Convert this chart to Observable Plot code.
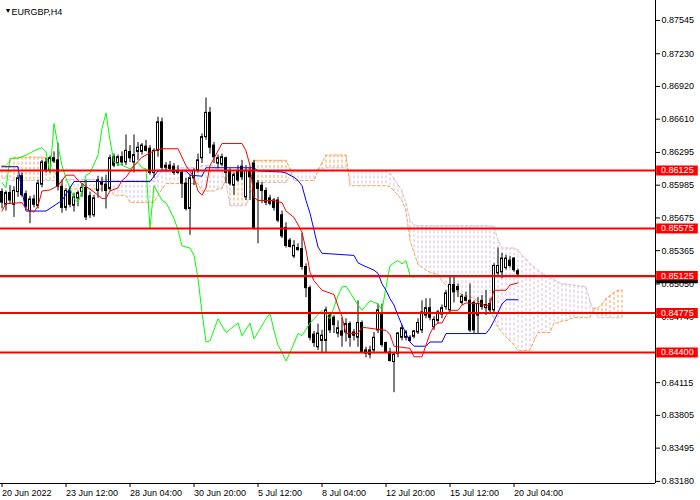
<!DOCTYPE html>
<html>
<head>
<meta charset="utf-8">
<script src="https://cdn.jsdelivr.net/npm/d3@7"></script>
<script src="https://cdn.jsdelivr.net/npm/@observablehq/plot@0.6"></script>
<style>
  html, body { margin: 0; padding: 0; background: #fff; }
  #chart svg { display: block; }
</style>
</head>
<body>
<div id="chart"></div>
<script>
// ---------- DATA ----------
const symbolTitle = "EURGBP,H4";

// H4 candles, bar index 0..129
const open = [
  0.8592,0.8580,0.8591,0.8580,0.8592,0.8607,0.8590,0.8574,0.8585,0.8579,
  0.8599,0.8620,0.8612,0.8624,0.8622,0.8597,0.8577,0.8593,0.8579,0.8586,
  0.8592,0.8596,0.8588,0.8570,0.8593,0.8601,0.8599,0.8595,0.8625,0.8619,
  0.8625,0.8620,0.8630,0.8620,0.8630,0.8630,0.8635,0.8633,0.8610,0.8631,
  0.8658,0.8615,0.8617,0.8616,0.8612,0.8610,0.8600,0.8576,0.8605,0.8612,
  0.8624,0.8644,0.8667,0.8636,0.8619,0.8618,0.8624,0.8612,0.8598,0.8612,
  0.8616,0.8587,0.8612,0.8619,0.8600,0.8598,0.8593,0.8586,0.8584,0.8584,
  0.8570,0.8558,0.8546,0.8531,0.8539,0.8538,0.8521,0.8501,0.8457,0.8445,
  0.8451,0.8451,0.8475,0.8473,0.8458,0.8460,0.8459,0.8467,0.8459,0.8454,
  0.8468,0.8442,0.8442,0.8442,0.8461,0.8477,0.8449,0.8440,0.8431,0.8439,
  0.8454,0.8454,0.8454,0.8455,0.8459,0.8461,0.8475,0.8482,0.8464,0.8470,
  0.8476,0.8483,0.8480,0.8504,0.8502,0.8487,0.8492,0.8489,0.8487,0.8475,
  0.8489,0.8482,0.8486,0.8480,0.8515,0.8516,0.8520,0.8527,0.8529,0.8517
];
const high = [
  0.8595,0.8593,0.8598,0.8597,0.8608,0.8610,0.8593,0.8588,0.8589,0.8603,
  0.8622,0.8624,0.8626,0.8630,0.8638,0.8603,0.8595,0.8597,0.8591,0.8593,
  0.8600,0.8603,0.8592,0.8589,0.8607,0.8606,0.8608,0.8627,0.8628,0.8627,
  0.8630,0.8646,0.8636,0.8646,0.8639,0.8638,0.8641,0.8636,0.8633,0.8663,
  0.8662,0.8620,0.8621,0.8619,0.8617,0.8612,0.8605,0.8608,0.8614,0.8628,
  0.8647,0.8681,0.8672,0.8639,0.8627,0.8628,0.8625,0.8614,0.8610,0.8617,
  0.8622,0.8617,0.8615,0.8622,0.8603,0.8601,0.8596,0.8589,0.8586,0.8587,
  0.8574,0.8563,0.8548,0.8546,0.8543,0.8553,0.8524,0.8503,0.8460,0.8467,
  0.8461,0.8483,0.8478,0.8475,0.8470,0.8473,0.8472,0.8469,0.8462,0.8489,
  0.8470,0.8445,0.8446,0.8459,0.8486,0.8486,0.8450,0.8444,0.8440,0.8459,
  0.8466,0.8461,0.8456,0.8461,0.8472,0.8489,0.8491,0.8491,0.8474,0.8480,
  0.8485,0.8499,0.8511,0.8511,0.8505,0.8495,0.8497,0.8505,0.8489,0.8492,
  0.8494,0.8499,0.8491,0.8524,0.8539,0.8534,0.8532,0.8531,0.8530,0.8519
];
const low = [
  0.8576,0.8574,0.8581,0.8568,0.8587,0.8587,0.8576,0.8562,0.8577,0.8576,
  0.8596,0.8610,0.8610,0.8619,0.8593,0.8572,0.8574,0.8577,0.8573,0.8578,
  0.8587,0.8565,0.8567,0.8568,0.8586,0.8592,0.8576,0.8593,0.8615,0.8616,
  0.8617,0.8617,0.8620,0.8610,0.8622,0.8627,0.8630,0.8608,0.8605,0.8625,
  0.8612,0.8611,0.8612,0.8608,0.8609,0.8586,0.8574,0.8551,0.8598,0.8610,
  0.8619,0.8641,0.8628,0.8619,0.8614,0.8616,0.8600,0.8598,0.8589,0.8601,
  0.8603,0.8584,0.8584,0.8556,0.8543,0.8581,0.8579,0.8579,0.8574,0.8563,
  0.8548,0.8539,0.8539,0.8529,0.8536,0.8518,0.8492,0.8451,0.8445,0.8442,
  0.8440,0.8440,0.8458,0.8458,0.8454,0.8445,0.8450,0.8445,0.8451,0.8445,
  0.8439,0.8435,0.8434,0.8439,0.8458,0.8445,0.8439,0.8431,0.8402,0.8435,
  0.8451,0.8451,0.8450,0.8453,0.8457,0.8458,0.8472,0.8470,0.8461,0.8467,
  0.8472,0.8480,0.8478,0.8487,0.8492,0.8485,0.8488,0.8459,0.8458,0.8458,
  0.8480,0.8475,0.8477,0.8478,0.8511,0.8510,0.8518,0.8520,0.8516,0.8511
];
const close = [
  0.8582,0.8591,0.8584,0.8593,0.8605,0.8589,0.8578,0.8585,0.8580,0.8600,
  0.8620,0.8612,0.8624,0.8621,0.8597,0.8577,0.8593,0.8580,0.8587,0.8591,
  0.8596,0.8568,0.8570,0.8586,0.8603,0.8599,0.8593,0.8624,0.8617,0.8625,
  0.8620,0.8631,0.8624,0.8627,0.8634,0.8636,0.8631,0.8610,0.8631,0.8658,
  0.8615,0.8617,0.8614,0.8610,0.8610,0.8600,0.8576,0.8605,0.8612,0.8622,
  0.8644,0.8667,0.8634,0.8625,0.8624,0.8625,0.8610,0.8600,0.8608,0.8603,
  0.8606,0.8612,0.8606,0.8558,0.8595,0.8593,0.8582,0.8581,0.8577,0.8565,
  0.8550,0.8541,0.8540,0.8541,0.8537,0.8521,0.8501,0.8454,0.8449,0.8458,
  0.8456,0.8480,0.8461,0.8466,0.8463,0.8456,0.8467,0.8454,0.8456,0.8468,
  0.8440,0.8439,0.8438,0.8454,0.8480,0.8447,0.8440,0.8432,0.8438,0.8458,
  0.8463,0.8459,0.8451,0.8460,0.8468,0.8478,0.8482,0.8473,0.8471,0.8478,
  0.8482,0.8496,0.8504,0.8497,0.8499,0.8493,0.8489,0.8461,0.8461,0.8486,
  0.8483,0.8485,0.8480,0.8522,0.8522,0.8529,0.8529,0.8522,0.8518,0.8514
];

// Ichimoku Tenkan-sen (red), vertices: bar index / price
const tenkanBar = [0,1,5,6,8,9,10,12,14,16,18,19,20,23,25,26,27,29,30,31,33,35,38,40,44,46,48,49,50,51,52,55,60,61,62,63,64,68,70,71,73,75,76,77,78,80,83,84,85,86,89,90,96,97,98,102,103,105,106,107,108,109,110,111,112,114,115,116,120,121,122,123,126,127,129];
const tenkanVal = [0.8574,0.8581,0.8582,0.8576,0.8573,0.8579,0.8593,0.8594,0.8598,0.8608,0.8608,0.8603,0.8600,0.8592,0.8586,0.8586,0.8593,0.8596,0.8603,0.8606,0.8617,0.8625,0.8631,0.8633,0.8633,0.8617,0.8606,0.8593,0.8589,0.8596,0.8617,0.8638,0.8638,0.8631,0.8617,0.8587,0.8584,0.8584,0.8582,0.8574,0.8568,0.8554,0.8537,0.8516,0.8508,0.8499,0.8495,0.8484,0.8474,0.8458,0.8458,0.8464,0.8461,0.8457,0.8446,0.8444,0.8436,0.8436,0.8447,0.8458,0.8465,0.8468,0.8468,0.8475,0.8480,0.8480,0.8485,0.8487,0.8486,0.8484,0.8486,0.8499,0.8499,0.8504,0.8506];

// Kijun-sen (blue)
const kijunBar = [0,4,5,6,11,13,15,17,18,37,38,39,46,47,50,51,63,64,70,71,73,74,75,76,77,78,79,80,88,89,90,93,94,95,96,97,98,99,100,101,102,103,106,107,110,111,121,122,123,124,125,126,129];
const kijunVal = [0.8616,0.8616,0.8593,0.8574,0.8574,0.8579,0.8584,0.8596,0.8602,0.8602,0.8607,0.8612,0.8612,0.8608,0.8607,0.8615,0.8615,0.8612,0.8611,0.8610,0.8606,0.8603,0.8598,0.8584,0.8572,0.8556,0.8540,0.8534,0.8532,0.8525,0.8523,0.8518,0.8515,0.8505,0.8499,0.8491,0.8485,0.8475,0.8466,0.8458,0.8450,0.8446,0.8446,0.8450,0.8450,0.8458,0.8458,0.8463,0.8470,0.8478,0.8486,0.8490,0.8490];

// Chikou span (lime)
const chikouBar = [0,1,2,4,6,8,10,11,12,13,14,15,16,18,19,20,21,22,24,25,26,27,28,29,32,34,35,36,37,38,40,41,43,44,45,47,48,49,50,51,52,54,56,59,60,62,63,66,67,68,69,70,71,72,74,75,77,80,82,84,85,86,87,89,90,92,94,95,96,97,98,99,100,101,102,103];
const chikouVal = [0.8601,0.8596,0.8624,0.8624,0.8627,0.8631,0.8634,0.8630,0.8610,0.8657,0.8636,0.8617,0.8605,0.8586,0.8582,0.8593,0.8608,0.8610,0.8627,0.8652,0.8667,0.8641,0.8620,0.8619,0.8614,0.8620,0.8615,0.8614,0.8558,0.8598,0.8584,0.8582,0.8567,0.8556,0.8541,0.8539,0.8532,0.8510,0.8478,0.8450,0.8451,0.8472,0.8459,0.8468,0.8456,0.8468,0.8453,0.8472,0.8477,0.8461,0.8447,0.8440,0.8432,0.8440,0.8458,0.8456,0.8468,0.8480,0.8472,0.8494,0.8502,0.8503,0.8497,0.8485,0.8480,0.8489,0.8486,0.8480,0.8502,0.8522,0.8525,0.8527,0.8524,0.8527,0.8513,0.8511];

// Senkou span A (sandy brown) and B (thistle), bar index 0..155
const spanA = [
  0.8617,0.8617,0.8622,0.8625,0.8625,0.8625,0.8625,0.8625,0.8625,0.8625,
  0.8625,0.8624,0.8620,0.8612,0.8605,0.8595,0.8595,0.8595,0.8595,0.8595,
  0.8595,0.8595,0.8595,0.8595,0.8595,0.8595,0.8595,0.8595,0.8589,0.8589,
  0.8589,0.8589,0.8582,0.8582,0.8582,0.8582,0.8582,0.8582,0.8582,0.8589,
  0.8595,0.8600,0.8600,0.8600,0.8600,0.8600,0.8600,0.8600,0.8600,0.8600,
  0.8593,0.8593,0.8593,0.8593,0.8595,0.8595,0.8605,0.8610,0.8610,0.8610,
  0.8610,0.8610,0.8617,0.8622,0.8622,0.8622,0.8622,0.8622,0.8622,0.8622,
  0.8622,0.8622,0.8614,0.8603,0.8603,0.8603,0.8603,0.8603,0.8603,0.8612,
  0.8620,0.8627,0.8627,0.8627,0.8627,0.8627,0.8627,0.8598,0.8598,0.8598,
  0.8598,0.8598,0.8598,0.8598,0.8598,0.8598,0.8598,0.8597,0.8593,0.8589,
  0.8584,0.8574,0.8546,0.8535,0.8523,0.8521,0.8518,0.8516,0.8515,0.8514,
  0.8508,0.8504,0.8501,0.8499,0.8497,0.8495,0.8494,0.8493,0.8491,0.8489,
  0.8486,0.8484,0.8480,0.8472,0.8464,0.8459,0.8455,0.8451,0.8447,0.8442,
  0.8442,0.8442,0.8442,0.8451,0.8459,0.8459,0.8459,0.8459,0.8468,0.8468,
  0.8470,0.8470,0.8472,0.8473,0.8473,0.8473,0.8473,0.8473,0.8482,0.8482,
  0.8486,0.8491,0.8494,0.8497,0.8499,0.8499
];
const spanB = [
  0.8605,0.8605,0.8603,0.8603,0.8603,0.8603,0.8603,0.8603,0.8603,0.8603,
  0.8603,0.8603,0.8603,0.8603,0.8603,0.8604,0.8604,0.8604,0.8604,0.8604,
  0.8604,0.8604,0.8604,0.8604,0.8604,0.8604,0.8604,0.8604,0.8603,0.8603,
  0.8603,0.8603,0.8603,0.8603,0.8603,0.8603,0.8603,0.8603,0.8603,0.8608,
  0.8612,0.8615,0.8615,0.8615,0.8615,0.8615,0.8615,0.8615,0.8615,0.8615,
  0.8617,0.8617,0.8617,0.8617,0.8612,0.8612,0.8601,0.8579,0.8579,0.8579,
  0.8579,0.8579,0.8589,0.8601,0.8601,0.8601,0.8601,0.8601,0.8601,0.8601,
  0.8601,0.8601,0.8608,0.8612,0.8612,0.8612,0.8612,0.8612,0.8612,0.8614,
  0.8614,0.8615,0.8615,0.8615,0.8615,0.8615,0.8615,0.8612,0.8612,0.8612,
  0.8612,0.8612,0.8612,0.8612,0.8612,0.8612,0.8612,0.8610,0.8605,0.8599,
  0.8593,0.8581,0.8565,0.8561,0.8560,0.8560,0.8560,0.8560,0.8560,0.8560,
  0.8560,0.8560,0.8560,0.8560,0.8560,0.8560,0.8560,0.8560,0.8560,0.8560,
  0.8560,0.8560,0.8560,0.8559,0.8546,0.8539,0.8539,0.8539,0.8539,0.8537,
  0.8532,0.8529,0.8524,0.8521,0.8518,0.8515,0.8513,0.8511,0.8509,0.8507,
  0.8505,0.8505,0.8504,0.8504,0.8503,0.8503,0.8502,0.8489,0.8478,0.8473,
  0.8473,0.8473,0.8473,0.8473,0.8473,0.8473
];

// horizontal support / resistance levels
const levels = [0.86125, 0.85575, 0.85125, 0.84775, 0.84400];
const bidPrice = 0.8511;
const lastPrice = 0.8507;

// axis ticks
const yTicks = [0.87545,0.87230,0.86920,0.86610,0.86295,0.85985,0.85675,0.85365,0.85050,0.84740,0.84115,0.83805,0.83495,0.83180];
const xTickBars = [0,16,32,48,64,80,96,112,128];
const xTickLabels = ["20 Jun 2022","23 Jun 12:00","28 Jun 04:00","30 Jun 20:00","5 Jul 12:00","8 Jul 04:00","12 Jul 20:00","15 Jul 12:00","20 Jul 04:00"];

// ---------- CHART ----------
const X_MIN = -0.375, X_MAX = 163.375;
const Y_MIN = 0.83160, Y_MAX = 0.87734;

const barIdx = close.map((_, i) => i);
const cloudIdx = spanA.map((_, i) => i);
const pairs = (bars, vals) => bars.map((b, k) => [b, vals[k]]);

const SANDY = "#F4A460", THISTLE = "#D8BFD8";

const chart = Plot.plot({
  width: 700,
  height: 500,
  marginLeft: 0,
  marginRight: 45,
  marginTop: 0,
  marginBottom: 17,
  style: {
    fontFamily: "'Liberation Sans', Arial, sans-serif",
    fontSize: "9px",
    color: "#000",
    background: "#fff",
    overflow: "visible"
  },
  x: {type: "linear", domain: [X_MIN, X_MAX]},
  y: {type: "linear", domain: [Y_MIN, Y_MAX]},
  marks: [
    // Kumo hatch
    Plot.ruleX(cloudIdx, {
      x: i => i, y1: i => Math.max(spanA[i], spanB[i]), y2: i => Math.min(spanA[i], spanB[i]),
      stroke: i => spanA[i] >= spanB[i] ? SANDY : THISTLE,
      strokeWidth: 1, strokeDasharray: "3,2"
    }),
    Plot.line(cloudIdx, {x: i => i, y: i => spanB[i], stroke: THISTLE, strokeWidth: 1, strokeDasharray: "3,2"}),
    Plot.line(cloudIdx, {x: i => i, y: i => spanA[i], stroke: SANDY, strokeWidth: 1, strokeDasharray: "3,2"}),

    // bid line
    Plot.ruleY([bidPrice], {stroke: "#C0C0C0", strokeWidth: 1}),

    // candles
    Plot.ruleX(barIdx, {x: i => i, y1: i => low[i], y2: i => high[i], stroke: "#000", strokeWidth: 1}),
    Plot.rect(barIdx, {
      x1: i => i - 0.25, x2: i => i + 0.25,
      y1: i => open[i], y2: i => close[i],
      fill: i => close[i] >= open[i] ? "#fff" : "#000",
      stroke: "#000", strokeWidth: 1
    }),

    // Ichimoku lines
    Plot.line(pairs(chikouBar, chikouVal), {stroke: "#00FF00", strokeWidth: 1}),
    Plot.line(pairs(kijunBar, kijunVal), {stroke: "#0000FF", strokeWidth: 1}),
    Plot.line(pairs(tenkanBar, tenkanVal), {stroke: "#FF0000", strokeWidth: 1}),

    // levels
    Plot.ruleY(levels, {y: d => d, stroke: "#FF0000", strokeWidth: 2}),

    // frame lines (right and bottom)
    Plot.ruleX([X_MAX], {stroke: "#000", strokeWidth: 1}),
    Plot.ruleY([Y_MIN], {stroke: "#000", strokeWidth: 1}),

    // axes
    Plot.axisY({
      anchor: "right", ticks: yTicks, tickFormat: d => d.toFixed(5),
      tickSize: 4, tickPadding: 2, label: null, fontSize: 9
    }),
    Plot.axisX({
      anchor: "bottom", ticks: xTickBars,
      tickFormat: d => xTickLabels[xTickBars.indexOf(d)],
      tickSize: 4, tickPadding: 2, textAnchor: "start", label: null, fontSize: 9
    }),

    // level price tags on the axis
    Plot.ruleY(levels, {y: d => d, x1: X_MAX + 0.3, x2: X_MAX + 10.7, stroke: "#FF0000", strokeWidth: 10}),
    Plot.text(levels, {x: X_MAX + 1.4, y: d => d, text: d => d.toFixed(5), fill: "#fff", textAnchor: "start", fontSize: 9}),
    Plot.ruleY([lastPrice], {x1: X_MAX + 0.3, x2: X_MAX + 10.7, stroke: "#000", strokeWidth: 3}),

    // title
    Plot.text(["\u25BC"], {frameAnchor: "top-left", dx: 4, dy: 8, fontSize: 7, fill: "#000"}),
    Plot.text([symbolTitle], {frameAnchor: "top-left", dx: 11, dy: 8, textAnchor: "start", fontSize: 9, fill: "#000"})
  ]
});

document.getElementById("chart").appendChild(chart);
</script>
</body>
</html>
